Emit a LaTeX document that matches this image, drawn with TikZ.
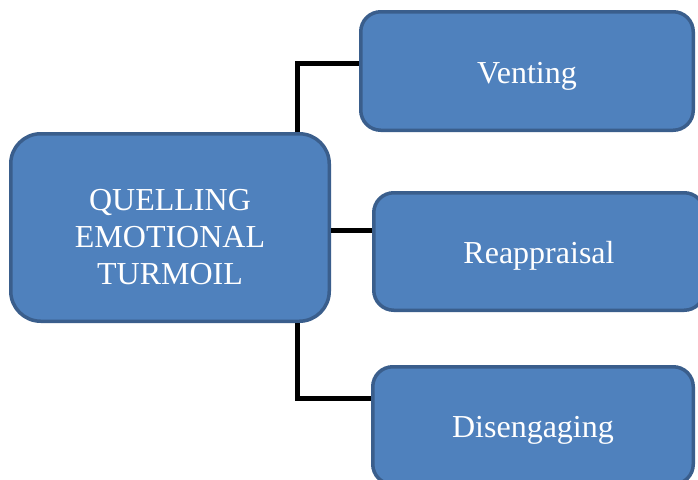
\documentclass[tikz,border=0pt]{standalone}
\usepackage{fontspec}
\setmainfont{Liberation Serif}
\definecolor{boxfill}{HTML}{4F81BD}
\definecolor{boxline}{HTML}{3A5E8C}
\begin{document}
\begin{tikzpicture}[x=1pt,y=-1pt,
  box/.style={draw=boxline, fill=boxfill, line width=3.5pt, inner sep=0pt, rectangle},
  mainbox/.style={box, rounded corners=30pt, minimum width=318.5pt, minimum height=187.5pt},
  sidebox/.style={box, rounded corners=20pt, minimum height=117.5pt},
  lbl/.style={text=white, font=\fontsize{32}{38}\selectfont, inner sep=0pt, anchor=base},
  conn/.style={line width=5pt, draw=black}]
\clip (0,0) rectangle (698,479);
\fill[white] (0,0) rectangle (698,479);

% branch point of the tree
\coordinate (hub) at (297.5,230.5);

% box centres
\path (170,227.5) coordinate (mainc) (527,71) coordinate (ventc)
      (539,251.5) coordinate (reappc) (533,425.5) coordinate (disgc);

% boxes
\node[mainbox] (main) at (mainc) {};
\node[sidebox, minimum width=332.5pt, minimum height=118.5pt] (vent) at (ventc) {};
\node[sidebox, minimum width=330.5pt] (reapp) at (reappc) {};
\node[sidebox, minimum width=320.5pt] (disg) at (disgc) {};

% connectors
\draw[conn] (main.north -| hub) |- ([yshift=7.5pt]vent.west);
\draw[conn] (main.east |- hub) -- (reapp.west |- hub);
\draw[conn] (main.south -| hub) |- ([yshift=27.5pt]disg.west);

% labels
\node[lbl] (mainl1) at ([yshift=17.5pt]main.center) {QUELLING};
\node[lbl] (mainl2) at ([yshift=-19.5pt]main.center) {EMOTIONAL};
\node[lbl] (mainl3) at ([yshift=-57pt]main.center) {TURMOIL};
\node[lbl] (ventlbl) at ([yshift=-12pt]vent.center) {Venting};
\node[lbl] (reapplbl) at ([yshift=-11.5pt]reapp.center) {Reappraisal};
\node[lbl] (disglbl) at ([yshift=-11.5pt]disg.center) {Disengaging};
\end{tikzpicture}
\end{document}
